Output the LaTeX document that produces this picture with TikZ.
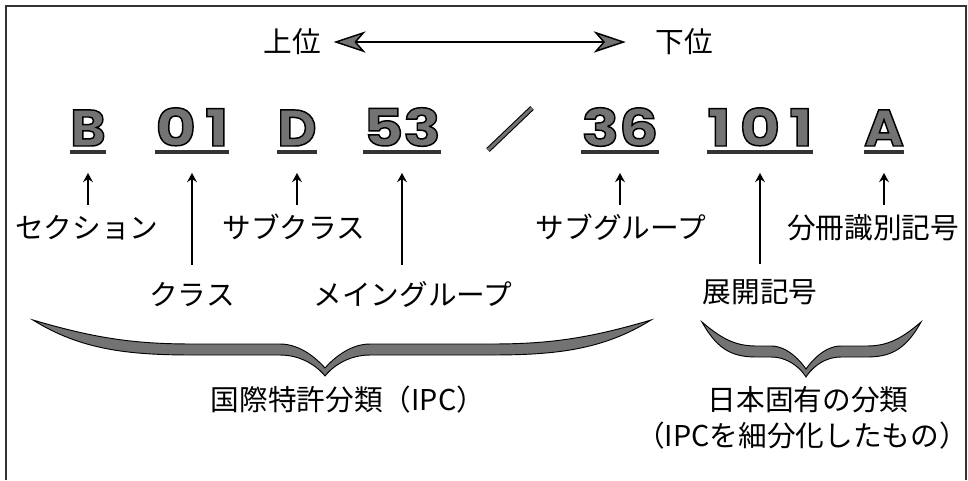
\documentclass[tikz,border=0pt]{standalone}
\usepackage{fontspec}
\usetikzlibrary{arrows.meta}
\setmainfont{Noto Sans CJK JP}
\newfontfamily\codefont{Poppins}[FakeStretch=1.05]
\newfontfamily\codedig{Poppins}[FakeStretch=1.2]
\newfontfamily\codedigw{Poppins}[FakeStretch=1.2, LetterSpace=18]
\newcommand{\outl}[1]{\special{pdf:literal direct 2 Tr 1.1 w 0 0 0 RG}#1\special{pdf:literal direct 0 Tr}}
% #1 L, #2 M, #3 R, #4 T, #5 B, #6 a, #7 b
\newcommand{\fatbrace}[7]{%
\path[bracefill] (#1,#4) .. controls ({#1+0.3*#6},{#4+30}) and ({#1+0.6*#6},{#4+35}) .. ({#1+#6},{#4+35})
 -- ({#2-#7},{#4+35}) .. controls ({#2-0.45*#7},{#4+35}) and ({#2-0.1*#7},{#5-6}) .. (#2,#5)
 .. controls ({#2+0.1*#7},{#5-6}) and ({#2+0.45*#7},{#4+35}) .. ({#2+#7},{#4+35})
 -- ({#3-#6},{#4+35}) .. controls ({#3-0.6*#6},{#4+35}) and ({#3-0.3*#6},{#4+30}) .. (#3,#4)
 .. controls ({#3-0.4*#6},{#4+19}) and ({#3-0.65*#6},{#4+24}) .. ({#3-#6},{#4+24})
 -- ({#2+#7},{#4+24}) .. controls ({#2+0.5*#7},{#4+24}) and ({#2+0.12*#7},{#5-14}) .. (#2,{#5-8})
 .. controls ({#2-0.12*#7},{#5-14}) and ({#2-0.5*#7},{#4+24}) .. ({#2-#7},{#4+24})
 -- ({#1+#6},{#4+24}) .. controls ({#1+0.65*#6},{#4+24}) and ({#1+0.4*#6},{#4+19}) .. (#1,#4) -- cycle;}
\tikzset{
 lbl/.style={inner sep=0pt, text height=18.9pt, text depth=2.6pt, font=\fontsize{21.5}{24}\selectfont},
 code/.style={inner sep=0pt, text depth=0pt, anchor=base, text=black!55, font=\codefont\bfseries\fontsize{38.5}{38.5}\selectfont},
 dig/.style={font=\codedig\bfseries\fontsize{38.5}{38.5}\selectfont},
 digw/.style={font=\codedigw\bfseries\fontsize{38.5}{38.5}\selectfont},
 uline/.style={line width=2.3pt, draw=black!80},
 arr/.style={-{Stealth[length=7pt,width=7.5pt,inset=2.5pt]}, line width=1.2pt},
 dbl/.style={{Stealth[length=24pt,width=16pt,inset=7pt,fill=black!55]}-{Stealth[length=24pt,width=16pt,inset=7pt,fill=black!55]}, line width=1.1pt},
 bracefill/.style={fill=black!55, draw=black, line width=0.7pt},
 frame/.style={draw=black!80, line width=1.6pt},
 slashline/.style={draw=black, line width=0.8pt, double=black!55, double distance=2.2pt}
}
\begin{document}
\begin{tikzpicture}[x=0.75pt,y=-0.75pt]
\useasboundingbox (0,0) rectangle (968,480);
\draw[frame] (6,480) -- (6,6) -- (966,6) -- (966,480);
% top scale
\node[lbl] (up) at (292,42) {上位};
\node[lbl] (down) at (684,42) {下位};
\draw[dbl, shorten <=9.5pt, shorten >=22pt] (up) -- (down);
% code
\node[code] (b) at (88,146) {\outl{B}};
\node[code,digw] (c01) at (192,146) {\outl{01}};
\node[code] (d) at (297,146) {\outl{D}};
\node[code,dig] (c53) at (402,146) {\outl{53}};
\node[code,dig] (c36) at (620,146) {\outl{36}};
\node[code,digw] (c101) at (760,146) {\outl{101}};
\node[code] (a) at (884,146) {\outl{A}};
\foreach \n in {b,c01,d,c53,c36,c101,a}
  \draw[uline] ([yshift=-4.5pt]\n.base west) -- ([yshift=-4.5pt]\n.base east);
\draw[slashline] (488,150) -- (532,108);
% labels
\node[lbl] (sec) at (87,228) {セクション};
\node[lbl] (subc) at (294,228) {サブクラス};
\node[lbl] (subg) at (621,228) {サブグループ};
\node[lbl] (bun) at (873,228) {分冊識別記号};
\node[lbl] (cls) at (192,295) {クラス};
\node[lbl] (mg) at (413,295) {メイングループ};
\node[lbl] (ten) at (760,292) {展開記号};
% arrows
\draw[arr, shorten <=6.5pt, shorten >=20pt] (sec.north -| b.south) -- (b.south);
\draw[arr, shorten <=6.5pt, shorten >=20pt] (subc.north -| d.south) -- (d.south);
\draw[arr, shorten <=6.5pt, shorten >=20pt] (subg.north -| c36.south) -- (c36.south);
\draw[arr, shorten <=6.5pt, shorten >=20pt] (bun.north -| a.south) -- (a.south);
\draw[arr, shorten <=11.7pt, shorten >=20pt] (cls.north -| c01.south) -- (c01.south);
\draw[arr, shorten <=11.7pt, shorten >=20pt] (mg.north -| c53.south) -- (c53.south);
\draw[arr, shorten <=10pt, shorten >=20pt] (ten.north -| c101.south) -- (c101.south);
% braces
\fatbrace{33}{325}{651}{320}{376}{160}{45}
\fatbrace{702}{806}{921}{322}{377}{55}{35}
\node[lbl] (ipc) at (348,400) {国際特許分類（IPC）};
\node[lbl] (jp1) at (808,400) {日本固有の分類};
\node[lbl] (jp2) at (802,436) {（IPCを細分化したもの）};
\end{tikzpicture}
\end{document}
